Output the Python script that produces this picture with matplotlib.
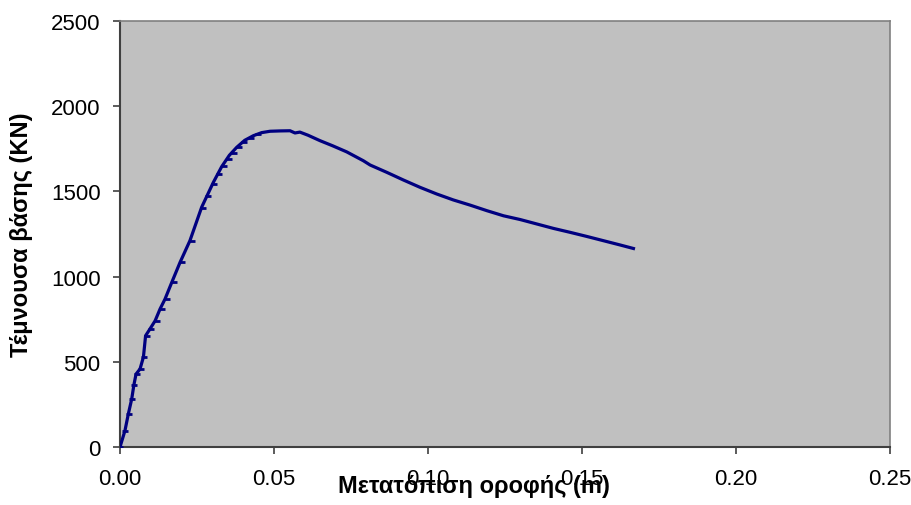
import matplotlib
matplotlib.use("Agg")
import matplotlib.pyplot as plt
from matplotlib.ticker import FormatStrFormatter

plt.rcParams['font.family'] = ['Liberation Sans', 'DejaVu Sans']

# Pushover curve: roof displacement (m) vs base shear (kN)
disp = [0.0, 0.0016, 0.0027, 0.0038, 0.0045, 0.0052, 0.0065, 0.0076, 0.0083,
        0.0097, 0.0114, 0.0130, 0.0146, 0.0168, 0.0195, 0.0227, 0.0265, 0.0303,
        0.0330, 0.0355, 0.0379, 0.0405, 0.0433, 0.0460, 0.0487, 0.0520, 0.0552,
        0.0568, 0.0584, 0.0610, 0.0649, 0.0690, 0.0736, 0.0790, 0.0812, 0.0866,
        0.0920, 0.0974, 0.1028, 0.1082, 0.1136, 0.1191, 0.1245, 0.1299, 0.1353,
        0.1407, 0.1461, 0.1515, 0.1569, 0.1623, 0.1667]
shear = [0, 96, 194, 282, 364, 428, 458, 528, 653, 692, 741, 810, 868, 966,
         1084, 1211, 1407, 1553, 1645, 1712, 1759, 1800, 1827, 1845, 1853, 1855,
         1856, 1843, 1848, 1830, 1798, 1768, 1732, 1680, 1655, 1612, 1567, 1524,
         1485, 1450, 1420, 1387, 1357, 1335, 1309, 1283, 1260, 1236, 1211, 1186,
         1165]

# Step points of the analysis (markers)
step_disp = [0.0, 0.0017, 0.0029, 0.0039, 0.0047, 0.0054, 0.0067, 0.0079,
             0.0088, 0.0102, 0.0119, 0.0135, 0.0152, 0.0174, 0.0201, 0.0233,
             0.0268, 0.0285, 0.0305, 0.0322, 0.0338, 0.0354, 0.0370, 0.0386,
             0.0403, 0.0425, 0.0447]
step_shear = [0, 96, 194, 282, 364, 428, 458, 528, 653, 692, 741, 810, 868,
              966, 1084, 1211, 1400, 1475, 1545, 1600, 1648, 1690, 1725, 1762,
              1790, 1815, 1835]

x_ticks = [0.00, 0.05, 0.10, 0.15, 0.20, 0.25]
y_ticks = [0, 500, 1000, 1500, 2000, 2500]

fig = plt.figure(figsize=(9.12, 5.06), dpi=100)
ax = fig.add_axes([0.1316, 0.1146, 0.8443, 0.8419])
ax.set_facecolor('#C0C0C0')

ax.plot(step_disp, step_shear, linestyle='none', marker='_', markersize=4,
        markeredgewidth=2, color='#000080', zorder=3)
ax.plot(disp, shear, color='#000080', linewidth=2.3, zorder=4,
        solid_joinstyle='round')

ax.set_xlim(0, 0.25)
ax.set_ylim(0, 2500)
ax.set_xticks(x_ticks)
ax.set_yticks(y_ticks)
ax.xaxis.set_major_formatter(FormatStrFormatter('%.2f'))

for s in ['top', 'right']:
    ax.spines[s].set_color('#808080')
    ax.spines[s].set_linewidth(1.2)
for s in ['left', 'bottom']:
    ax.spines[s].set_color('#404040')
    ax.spines[s].set_linewidth(1.5)

ax.tick_params(axis='both', direction='out', length=5, width=1.2,
               color='#404040', labelsize=16, labelcolor='black')
ax.tick_params(axis='x', pad=10)
ax.tick_params(axis='y', pad=9)

ax.set_xlabel('Μετατόπιση οροφής (m)', fontsize=17, fontweight='bold',
              va='center', ha='center')
ax.xaxis.set_label_coords(0.46, -0.0915)
ax.set_ylabel('Τέμνουσα βάσης (KN)', fontsize=17, fontweight='bold',
              va='center', ha='center')
ax.yaxis.set_label_coords(-0.128, 0.5)

fig.savefig('out.png', dpi=100)
